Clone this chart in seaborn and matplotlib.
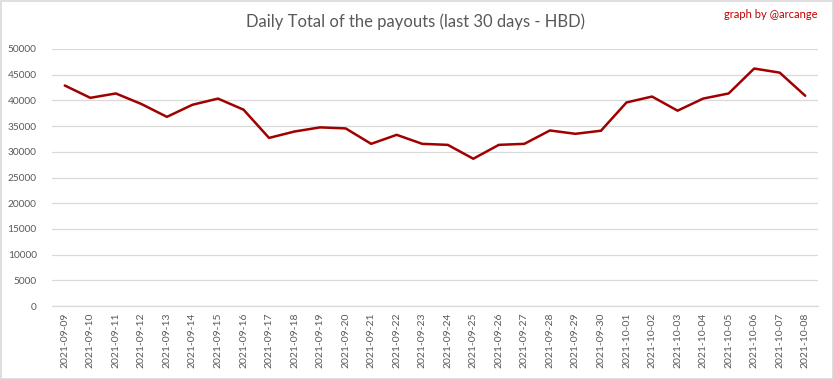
import matplotlib
matplotlib.use("Agg")
import matplotlib.pyplot as plt
import seaborn as sns
import pandas as pd
import numpy as np

dates = ["2021-09-09", "2021-09-10", "2021-09-11", "2021-09-12", "2021-09-13",
         "2021-09-14", "2021-09-15", "2021-09-16", "2021-09-17", "2021-09-18",
         "2021-09-19", "2021-09-20", "2021-09-21", "2021-09-22", "2021-09-23",
         "2021-09-24", "2021-09-25", "2021-09-26", "2021-09-27", "2021-09-28",
         "2021-09-29", "2021-09-30", "2021-10-01", "2021-10-02", "2021-10-03",
         "2021-10-04", "2021-10-05", "2021-10-06", "2021-10-07", "2021-10-08"]
payouts = [42900, 40500, 41350, 39300, 36800, 39150, 40350, 38200, 32700, 33950,
           34750, 34550, 31550, 33300, 31550, 31350, 28650, 31350, 31550, 34150,
           33500, 34100, 39600, 40750, 38000, 40350, 41350, 46200, 45400, 40900]
yticks = [0, 5000, 10000, 15000, 20000, 25000, 30000, 35000, 40000, 45000, 50000]

sns.set_theme(style="white")
plt.rcParams['font.family'] = ['Lato', 'DejaVu Sans']

df = pd.DataFrame({"pos": np.arange(len(dates)), "value": payouts})

fig = plt.figure(figsize=(8.33, 3.79), dpi=100)
ax = fig.add_axes([52/833, 1 - 306/379, (818-52)/833, (306-49)/379])

sns.lineplot(data=df, x="pos", y="value", ax=ax, color="#A00000", linewidth=1.8)

ax.set_xlim(-0.5, len(dates) - 0.5)
ax.set_ylim(0, 50000)
ax.set_yticks(yticks)
ax.set_yticklabels([str(v) for v in yticks], fontsize=7.3, color="#595959")
ax.set_xticks(np.arange(len(dates)))
ax.set_xticklabels(dates, rotation=90, fontsize=7.5, color="#595959")
ax.tick_params(axis="y", length=0, pad=11)
ax.tick_params(axis="x", length=0, pad=5)
ax.set_xlabel("")
ax.set_ylabel("")
ax.grid(axis="y", color="#D9D9D9", linewidth=0.9)
ax.set_axisbelow(True)
for s in ["top", "right", "left"]:
    ax.spines[s].set_visible(False)
ax.spines["bottom"].set_color("#D9D9D9")
ax.spines["bottom"].set_linewidth(0.9)

fig.text(416/833, 1 - 22/379, "Daily Total of the payouts (last 30 days - HBD)",
         ha="center", va="center", fontsize=12, color="#595959")
fig.text(818/833, 1 - 15/379, "graph by @arcange", ha="right", va="center",
         fontsize=8, color="#C00000")

border = plt.Rectangle((0.5/833, 0.5/379), 1 - 1/833, 1 - 1/379, transform=fig.transFigure,
                       fill=False, edgecolor="#D9D9D9", linewidth=1.2)
fig.patches.append(border)

fig.savefig("out.png", dpi=100, facecolor="white")
